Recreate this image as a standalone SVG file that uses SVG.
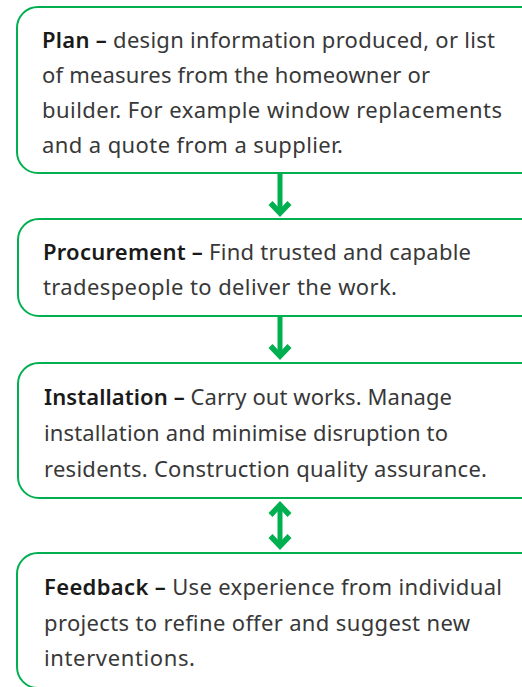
<svg xmlns="http://www.w3.org/2000/svg" width="522" height="687" viewBox="0 0 522 687">
<style>
.box{fill:#ffffff;stroke:#00b050;stroke-width:2}
.t{font-family:"Noto Sans","Liberation Sans",sans-serif;font-size:22px;fill:#383838}
.b{font-weight:600;fill:#1a1a1a}
.shaft{stroke:#00b050;stroke-width:5;fill:none}
.head{stroke:#00b050;stroke-width:5.5;fill:none;stroke-linejoin:miter;stroke-linecap:butt}
</style>
<rect width="522" height="687" fill="#ffffff"/>
<g id="connectors">
<line class="shaft" x1="280" y1="174" x2="280" y2="214"/>
<polyline class="head" points="270.5,203 280,213 289.5,203"/>
<line class="shaft" x1="280" y1="317" x2="280" y2="357"/>
<polyline class="head" points="270.5,346 280,356 289.5,346"/>
<line class="shaft" x1="280" y1="505" x2="280" y2="546"/>
<polyline class="head" points="270.5,515 280,505 289.5,515"/>
<polyline class="head" points="270.5,536 280,546 289.5,536"/>
</g>
<g id="plan">
<rect class="box" x="17" y="7" width="540" height="166" rx="21"/>
<text class="t" x="42" y="48" textLength="453" lengthAdjust="spacing"><tspan class="b">Plan –</tspan> design information produced, or list</text>
<text class="t" x="42" y="83" textLength="388" lengthAdjust="spacing">of measures from the homeowner or</text>
<text class="t" x="42" y="118" textLength="460" lengthAdjust="spacing">builder. For example window replacements</text>
<text class="t" x="42" y="153" textLength="301" lengthAdjust="spacing">and a quote from a supplier.</text>
</g>
<g id="procurement">
<rect class="box" x="18" y="219" width="540" height="97" rx="21"/>
<text class="t" x="43" y="260" textLength="428" lengthAdjust="spacing"><tspan class="b">Procurement –</tspan> Find trusted and capable</text>
<text class="t" x="43" y="295" textLength="354" lengthAdjust="spacing">tradespeople to deliver the work.</text>
</g>
<g id="installation">
<rect class="box" x="18" y="363" width="540" height="135" rx="21"/>
<text class="t" x="44" y="405" textLength="408" lengthAdjust="spacing"><tspan class="b">Installation –</tspan> Carry out works. Manage</text>
<text class="t" x="44" y="441" textLength="404" lengthAdjust="spacing">installation and minimise disruption to</text>
<text class="t" x="44" y="477" textLength="443" lengthAdjust="spacing">residents. Construction quality assurance.</text>
</g>
<g id="feedback">
<rect class="box" x="17" y="553" width="540" height="135" rx="21"/>
<text class="t" x="44" y="595" textLength="458" lengthAdjust="spacing"><tspan class="b">Feedback –</tspan> Use experience from individual</text>
<text class="t" x="44" y="631" textLength="426" lengthAdjust="spacing">projects to refine offer and suggest new</text>
<text class="t" x="44" y="666" textLength="151" lengthAdjust="spacing">interventions.</text>
</g>
</svg>
